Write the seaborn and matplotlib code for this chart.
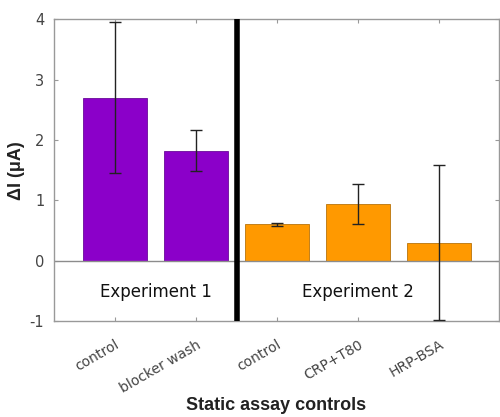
import matplotlib
matplotlib.use("Agg")
import matplotlib.pyplot as plt
import seaborn as sns
import pandas as pd
import numpy as np

categories = ["control", "blocker wash", "control", "CRP+T80", "HRP-BSA"]
groups = ["Experiment 1", "Experiment 1", "Experiment 2", "Experiment 2", "Experiment 2"]
values = [2.70, 1.82, 0.60, 0.94, 0.30]
errors = [1.25, 0.34, 0.03, 0.33, 1.29]
group_colors = {"Experiment 1": "#8B00C9", "Experiment 2": "#FF9900"}
yticks = [-1, 0, 1, 2, 3, 4]

sns.set_style("white")
plt.rcParams["font.family"] = ["DejaVu Sans"]

df = pd.DataFrame({"idx": [str(i) for i in range(len(categories))],
                   "value": values, "group": groups})

fig = plt.figure(figsize=(5.0, 4.17), dpi=100)
ax = fig.add_axes([0.108, 0.230, 0.890, 0.724])

sns.barplot(data=df, x="idx", y="value", hue="group", palette=group_colors,
            dodge=False, width=0.8, ax=ax, legend=False, errorbar=None,
            linewidth=0.6, saturation=1)
for bar in ax.patches:
    fc = bar.get_facecolor()
    if fc[0] > 0.9:
        bar.set_edgecolor("#B8730A")
    else:
        bar.set_edgecolor("#6A0A9A")

xpos = np.arange(len(categories))
ax.errorbar(xpos, values, yerr=errors, fmt="none", ecolor="#222222",
            elinewidth=1.0, capsize=4, capthick=1.0, zorder=5)

ax.axhline(0, color="#8c8c8c", lw=1.0, zorder=1)
ax.axvline(1.5, color="black", lw=4, zorder=6)

ax.set_xlim(-0.753, 4.74)
ax.set_ylim(-1, 4)
ax.set_yticks(yticks)
ax.set_yticklabels([str(t) for t in yticks], fontsize=10.5, color="#444444")
ax.set_xticks(xpos)
ax.set_xticklabels(categories, rotation=30, ha="right", rotation_mode="anchor",
                   fontsize=10, color="#444444")

ax.text(0.5, -0.52, "Experiment 1", ha="center", va="center", fontsize=12, color="#111111")
ax.text(3.0, -0.52, "Experiment 2", ha="center", va="center", fontsize=12, color="#111111")

for s in ax.spines.values():
    s.set_color("#999999")
    s.set_linewidth(1.0)
ax.tick_params(axis="both", direction="in", length=3, color="#999999",
               top=True, right=True, bottom=True, left=True)
ax.tick_params(axis="x", pad=12)
ax.tick_params(axis="y", pad=7)

ax.set_xlabel("Static assay controls", fontsize=13, fontweight="bold",
              family="Liberation Sans", color="#222222", labelpad=1)
ax.set_ylabel("ΔI (μA)", fontsize=13, fontweight="bold",
              family="Liberation Sans", color="#222222", labelpad=3)

fig.savefig("out.png", dpi=100)
